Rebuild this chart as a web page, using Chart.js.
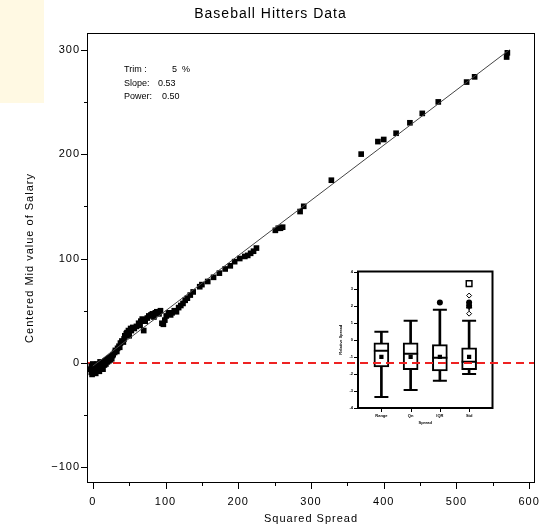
<!DOCTYPE html>
<html>
<head>
<meta charset="utf-8">
<script src="https://cdn.jsdelivr.net/npm/chart.js@4.4.1/dist/chart.umd.min.js"></script>
<style>
  html, body { margin: 0; padding: 0; background: #fff; }
  #wrap { position: relative; width: 552px; height: 532px; }
  #note { position: absolute; left: 0; top: 0; width: 44px; height: 103px; background: #fff9e3; }
  #main { position: absolute; left: 0; top: 0; z-index: 2; }
  #inset { position: absolute; left: 336px; top: 262px; z-index: 1; }
</style>
</head>
<body>
<div id="wrap">
  <div id="note"></div>
  <canvas id="inset" width="166" height="170"></canvas>
  <canvas id="main" width="552" height="532"></canvas>
</div>
<script>
// squared spread vs centered mid value
const hitterPoints = [
  [-3,-6],[-2,-9],[-2,-3],[-1,-11],[0,-7],[0,-1],[1,-4],[2,-9],[3,-6],[3,-2],[4,-10],[5,-4],[6,-7],[6,-1],
  [7,-5],[8,-2],[9,-8],[10,-4],[10,1],[11,-6],[12,-1],[13,-3],[14,-6],[15,0],[16,-2],[17,2],[18,-1],[19,3],
  [20,1],[21,4],[22,2],[23,5],[24,3],[25,6],[26,4],[27,7],[28,8],
  [30,10],[31,12],[33,11],[34,14],[36,16],[37,15],[38,19],[40,21],[42,20],[43,23],[44,26],[46,28],[47,29],
  [49,31],[50,26],[52,33],[53,31],[55,34],[57,33],[60,35],[63,38],[65,36],[66,40],[68,42],[70,31],[72,40],
  [75,43],[77,45],[80,46],[82,47],[84,44],[86,48],[88,49],[91,47],[93,50],[95,38],[97,37],[99,41],[101,45],
  [104,48],[107,46],[109,48],[112,50],[115,49],[118,53],[121,55],[124,57],[127,60],[130,62],[134,65],[138,68],
  [147,73],[150,75],[158,78],[166,82],[174,86],[182,90],[189,93],[195,97],[202,100],[209,102],[213,103],
  [217,105],[221,107],[225,110],[251,127],[255,129],[258,129],[261,130],[285,145],[290,150],[328,175],
  [369,200],[392,212],[400,214],[417,220],[436,230],[453,239],[475,250],[514,269],[525,274],[569,293],[570,297]
];
const fitLine = [[0, -3], [573, 300]];
const zeroLine = [[-8, 0], [608, 0]];
const noteLabels = ['Trim :', 'Slope:', 'Power:'];
const noteValues = ['5  %', '0.53', '0.50'];

// inset box plots
const boxLabels = ['Range', 'Qn', 'IQR', 'Std'];
const boxMin  = [-3.35, -2.94, -2.41, -2.0];
const boxQ1   = [-1.59, -1.76, -1.82, -1.76];
const boxMed  = [-0.65, -0.82, -1.06, -1.29];
const boxMean = [-1.0, -1.0, -1.0, -1.0];
const boxQ3   = [-0.18, -0.18, -0.29, -0.47];
const boxMax  = [0.47, 1.12, 1.76, 1.12];
const filledOutliers  = [[3, 2.18], [4, 2.18], [4, 2.0]];
const squareOutliers  = [[4, 3.29]];
const diamondOutliers = [[4, 2.59], [4, 1.53]];
const plusOutliers    = [[4, 1.88]];

const FONT = '"Liberation Sans", Arial, Helvetica, sans-serif';
const toXY = (p) => ({x: p[0], y: p[1]});

// frame round the plot area, outward tick marks, letter spacing
const frameTicks = {
  id: 'frameTicks',
  beforeUpdate(chart, args, opts) { chart.ctx.letterSpacing = opts.spacing; },
  beforeDraw(chart, args, opts) { chart.ctx.letterSpacing = opts.spacing; },
  afterDraw(chart, args, opts) {
    const {ctx, chartArea: a, scales} = chart;
    ctx.save();
    ctx.strokeStyle = '#000';
    ctx.lineWidth = opts.frameWidth;
    const off = opts.frameWidth % 2 ? 0.5 : 0;
    ctx.strokeRect(a.left + off, a.top + off, a.right - a.left - 2 * off, a.bottom - a.top - 2 * off);
    ctx.lineWidth = 1;
    ctx.beginPath();
    scales.x.ticks.forEach(t => {
      const len = t.value % opts.majorX === 0 ? opts.majorLen : opts.minorLen;
      const px = Math.round(scales.x.getPixelForValue(t.value)) + 0.5;
      ctx.moveTo(px, a.bottom);
      ctx.lineTo(px, a.bottom + len);
    });
    scales.y.ticks.forEach(t => {
      const len = t.value % opts.majorY === 0 ? opts.majorLen : opts.minorLen;
      const py = Math.round(scales.y.getPixelForValue(t.value)) + 0.5;
      ctx.moveTo(a.left, py);
      ctx.lineTo(a.left - len, py);
    });
    ctx.stroke();
    ctx.restore();
  }
};

const statsNote = {
  id: 'statsNote',
  afterDraw(chart) {
    const {ctx, chartArea: a} = chart;
    ctx.save();
    ctx.letterSpacing = '0px';
    ctx.font = '9px ' + FONT;
    ctx.fillStyle = '#000';
    ctx.textBaseline = 'middle';
    const valueX = [85, 71, 75];
    noteLabels.forEach((label, i) => {
      const y = a.top + 37 + i * 13.5;
      ctx.fillText(label, a.left + 37, y);
      ctx.fillText(noteValues[i], a.left + valueX[i], y);
    });
    ctx.restore();
  }
};

const tinyFont = {family: FONT, size: 4, weight: 'bold'};

new Chart(document.getElementById('inset'), {
  type: 'bar',
  data: {
    datasets: [
      {
        data: boxLabels.map((_, i) => ({x: i + 1, y: [boxMin[i], boxMax[i]]})),
        backgroundColor: '#000', borderWidth: 0, barThickness: 2, grouped: false, order: 5
      },
      {
        data: boxLabels.map((_, i) => ({x: i + 1, y: [boxQ1[i], boxQ3[i]]})),
        backgroundColor: '#fff', borderColor: '#000', borderWidth: 2, borderSkipped: false,
        barThickness: 15, grouped: false, order: 4
      },
      {
        type: 'scatter',
        data: boxLabels.map((_, i) => ({x: i + 1, y: boxMin[i]})).concat(boxLabels.map((_, i) => ({x: i + 1, y: boxMax[i]}))),
        pointStyle: 'line', pointRadius: 7, pointBorderWidth: 2, pointBorderColor: '#000', order: 1
      },
      {
        type: 'scatter',
        data: boxLabels.map((_, i) => ({x: i + 1, y: boxMed[i]})),
        pointStyle: 'line', pointRadius: 7.5, pointBorderWidth: 2, pointBorderColor: '#000', order: 1
      },
      {
        type: 'scatter',
        data: boxLabels.map((_, i) => ({x: i + 1, y: boxMean[i]})),
        pointStyle: 'rect', pointRadius: 3, pointBorderWidth: 0, pointBackgroundColor: '#000', order: 1
      },
      {
        type: 'scatter', data: filledOutliers.map(toXY),
        pointStyle: 'circle', pointRadius: 3, pointBorderWidth: 0, pointBackgroundColor: '#000', order: 1
      },
      {
        type: 'scatter', data: squareOutliers.map(toXY),
        pointStyle: 'rect', pointRadius: 4, pointBorderWidth: 1.5, pointBorderColor: '#000', pointBackgroundColor: '#fff', order: 1
      },
      {
        type: 'scatter', data: diamondOutliers.map(toXY),
        pointStyle: 'rectRot', pointRadius: 2.5, pointBorderWidth: 1, pointBorderColor: '#000', pointBackgroundColor: '#fff', order: 1
      },
      {
        type: 'scatter', data: plusOutliers.map(toXY),
        pointStyle: 'cross', pointRadius: 3, pointBorderWidth: 1.5, pointBorderColor: '#000', order: 1
      }
    ]
  },
  options: {
    responsive: false,
    animation: false,
    events: [],
    layout: {padding: {top: 8, right: 5}},
    plugins: {
      legend: {display: false},
      tooltip: {enabled: false},
      frameTicks: {frameWidth: 2, majorX: 1, majorY: 1, majorLen: 4, minorLen: 4, spacing: '0px'}
    },
    scales: {
      x: {
        type: 'linear', min: 0.2, max: 4.8, offset: false,
        grid: {display: false, drawTicks: false}, border: {display: false},
        afterBuildTicks: (s) => { s.ticks = boxLabels.map((_, i) => ({value: i + 1})); },
        afterFit: (s) => { s.height = 24; },
        ticks: {padding: 5, color: '#000', font: tinyFont, maxRotation: 0, autoSkip: false,
          callback: (v) => boxLabels[v - 1]},
        title: {display: true, text: 'Spread', color: '#000', font: tinyFont, padding: {bottom: 6.6}}
      },
      y: {
        min: -4, max: 4,
        grid: {display: false, drawTicks: false}, border: {display: false},
        afterFit: (s) => { s.width = 22; },
        ticks: {stepSize: 1, padding: 5, color: '#000', font: tinyFont},
        title: {display: true, text: 'Relative Spread', color: '#000', font: tinyFont, padding: {top: 2.6}}
      }
    }
  },
  plugins: [frameTicks]
});

new Chart(document.getElementById('main'), {
  type: 'scatter',
  data: {
    datasets: [
      {
        type: 'line', data: zeroLine.map(toXY),
        borderColor: '#ee2222', borderWidth: 2, borderDash: [8, 5], pointRadius: 0, fill: false, order: 3
      },
      {
        data: hitterPoints.map(toXY),
        pointStyle: 'rect', pointRadius: 4, pointBorderWidth: 0, pointBackgroundColor: '#000', order: 2
      },
      {
        type: 'line', data: fitLine.map(toXY),
        borderColor: '#444', borderWidth: 1, pointRadius: 0, fill: false, order: 1
      }
    ]
  },
  options: {
    responsive: false,
    animation: false,
    events: [],
    layout: {padding: {right: 11}},
    plugins: {
      legend: {display: false},
      tooltip: {enabled: false},
      title: {
        display: true, text: 'Baseball Hitters Data', color: '#000',
        font: {family: FONT, size: 14, weight: 'normal'}, padding: {top: 6, bottom: 10.2}
      },
      frameTicks: {frameWidth: 1, majorX: 100, majorY: 100, majorLen: 6, minorLen: 3, spacing: '1px'}
    },
    scales: {
      x: {
        type: 'linear', min: -8, max: 608,
        grid: {display: false, drawTicks: false}, border: {display: false},
        afterFit: (s) => { s.height = 49; },
        ticks: {stepSize: 50, includeBounds: false, padding: 12, color: '#000', maxRotation: 0, autoSkip: false,
          font: {family: FONT, size: 11}, callback: (v) => v % 100 === 0 ? String(v) : ''},
        title: {display: true, text: 'Squared Spread', color: '#000', font: {family: FONT, size: 11}, padding: {bottom: 6.4}}
      },
      y: {
        min: -115, max: 316,
        grid: {display: false, drawTicks: false}, border: {display: false},
        afterFit: (s) => { s.width = 87; },
        ticks: {stepSize: 50, includeBounds: false, padding: 7, color: '#000', autoSkip: false,
          font: {family: FONT, size: 11},
          callback: (v) => v % 100 === 0 ? (v < 0 ? '\u2212' + (-v) : String(v)) : ''},
        title: {display: true, text: 'Centered Mid value of Salary', color: '#000', font: {family: FONT, size: 11}, padding: {top: 23.5}}
      }
    }
  },
  plugins: [frameTicks, statsNote]
});
</script>
</body>
</html>
